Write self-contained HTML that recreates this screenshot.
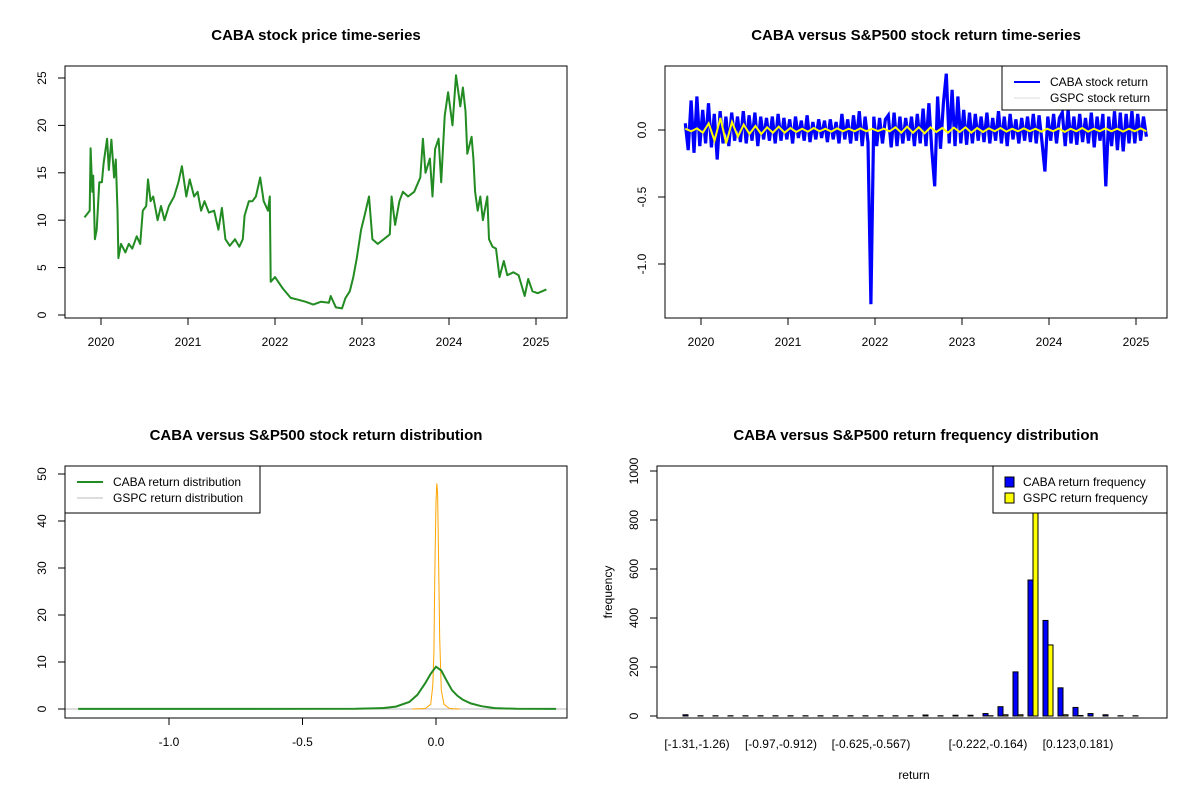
<!DOCTYPE html>
<html><head><meta charset="utf-8"><style>
html,body{margin:0;padding:0;background:#fff;}
svg{display:block;font-family:"Liberation Sans",Arial,sans-serif;}
</style></head><body>
<svg id="s" width="1200" height="800" xmlns="http://www.w3.org/2000/svg"></svg>
<script>
// ---------- data ----------
const priceT=[2019.81,2019.87,2019.88,2019.9,2019.91,2019.93,2019.95,2019.98,2020.01,2020.03,2020.07,2020.09,2020.12,2020.15,2020.17,2020.19,2020.2,2020.23,2020.28,2020.32,2020.36,2020.41,2020.45,2020.48,2020.52,2020.54,2020.57,2020.6,2020.65,2020.69,2020.73,2020.78,2020.84,2020.89,2020.93,2020.98,2021.02,2021.07,2021.11,2021.15,2021.19,2021.24,2021.3,2021.35,2021.39,2021.43,2021.48,2021.54,2021.59,2021.63,2021.65,2021.7,2021.74,2021.78,2021.83,2021.87,2021.92,2021.94,2021.95,2022.0,2022.09,2022.18,2022.27,2022.35,2022.44,2022.53,2022.62,2022.64,2022.7,2022.77,2022.81,2022.86,2022.9,2022.94,2022.99,2023.03,2023.08,2023.12,2023.18,2023.25,2023.32,2023.34,2023.38,2023.43,2023.47,2023.53,2023.6,2023.67,2023.7,2023.73,2023.78,2023.81,2023.84,2023.88,2023.91,2023.95,2023.99,2024.04,2024.08,2024.13,2024.16,2024.19,2024.21,2024.26,2024.28,2024.3,2024.33,2024.36,2024.39,2024.44,2024.46,2024.5,2024.54,2024.58,2024.63,2024.67,2024.74,2024.8,2024.87,2024.91,2024.96,2025.02,2025.12];
const priceV=[10.3,11,17.6,13,14.7,8,9,14,14,16,18.6,15.3,18.5,14.5,16.4,11,6,7.5,6.6,7.5,7,8.3,7.5,11,11.5,14.3,12,12.5,10,11.5,10,11.5,12.5,14,15.7,12.5,14.3,12.5,13,11,12,10.8,11,9,11.3,8,7.3,8,7.2,8,10.5,12,12,12.5,14.5,12,11,12.5,3.5,4,2.8,1.8,1.6,1.4,1.1,1.4,1.3,2,0.8,0.7,1.8,2.5,4,6,9,10.5,12.5,8,7.5,8,8.5,12.5,9.5,12,13,12.5,13,14.5,18.6,15,16.5,12.5,17.5,18.6,14,21,23.5,20,25.3,22,24,21.5,17,18.8,16.5,13,11,12.5,10,12.5,8,7.2,7,4,5.7,4.2,4.5,4.2,2,3.8,2.5,2.3,2.7];
const cabaRet=[0.05,-0.15,0.22,-0.17,0.25,-0.12,0.15,-0.1,0.2,-0.13,
0.12,-0.22,0.14,-0.1,0.1,-0.12,0.13,-0.08,0.1,-0.09,
0.14,-0.1,0.11,-0.08,0.13,-0.12,0.1,-0.07,0.09,-0.08,
0.1,-0.1,0.12,-0.08,0.09,-0.07,0.08,-0.1,0.1,-0.06,
0.07,-0.08,0.11,-0.09,0.06,-0.07,0.08,-0.06,0.07,-0.09,
0.08,-0.07,0.06,-0.1,0.12,-0.07,0.08,-0.1,0.11,-0.08,
0.14,-0.12,0.1,-0.09,-1.3,0.1,-0.12,0.09,-0.1,0.08,
0.11,-0.13,0.13,-0.12,0.1,-0.1,0.09,-0.08,0.1,-0.12,
0.12,-0.1,0.16,-0.12,0.2,-0.15,-0.42,0.25,-0.14,0.2,
0.42,-0.1,0.3,-0.12,0.25,-0.1,0.15,-0.11,0.13,-0.1,
0.12,-0.08,0.1,-0.09,0.13,-0.1,0.09,-0.08,0.14,-0.1,
0.1,-0.12,0.12,-0.07,0.08,-0.1,0.09,-0.08,0.1,-0.09,
0.12,-0.1,0.11,-0.09,-0.31,0.1,-0.08,0.12,-0.1,0.09,
0.13,-0.12,0.15,-0.1,0.1,-0.11,0.12,-0.09,0.09,-0.1,
0.13,-0.13,0.1,-0.08,0.12,-0.42,0.1,-0.12,0.14,-0.15,
0.13,-0.16,0.12,-0.1,0.14,-0.1,0.12,-0.08,0.1,-0.05];
const gspcRet=[0.01,-0.01,0.012,-0.02,0.05,-0.08,0.09,-0.1,0.06,-0.05,0.04,-0.03,0.03,-0.03,0.02,-0.02,0.025,-0.02,0.015,-0.015,0.01,-0.012,0.015,-0.01,0.01,-0.012,0.012,-0.01,0.01,-0.01,0.012,-0.01,0.01,-0.008,0.01,-0.01,0.02,-0.02,0.025,-0.02,0.02,-0.025,0.02,-0.015,0.015,-0.02,0.018,-0.015,0.02,-0.02,0.015,-0.015,0.012,-0.01,0.015,-0.012,0.01,-0.01,0.012,-0.01,0.01,-0.012,0.01,-0.01,0.012,-0.015,0.01,-0.01,0.015,-0.012,0.01,-0.01,0.012,-0.01,0.01,-0.012,0.01,-0.01,0.012,-0.01];
const yearTicks=[2020,2021,2022,2023,2024,2025];
const priceTicks=[0,5,10,15,20,25];
const retTicks=[0,-0.5,-1.0];
const retTickLabels=["0.0","-0.5","-1.0"];
const densX=[-1.34,-0.3,-0.2,-0.15,-0.1,-0.07,-0.04,-0.02,0,0.02,0.04,0.06,0.08,0.1,0.13,0.17,0.22,0.3,0.45];
const densCaba=[0.03,0.05,0.2,0.5,1.5,3,5.5,7.5,9,8.2,6,4,2.8,2,1.2,0.6,0.2,0.05,0.02];
const densGX=[-0.09,-0.04,-0.02,-0.012,-0.008,-0.004,0,0.003,0.006,0.01,0.014,0.02,0.03,0.05,0.09];
const densGspc=[0,0.1,1,5,12,30,44,48,46,30,15,4,1,0.1,0];
const densYTicks=[0,10,20,30,40,50];
const densXTicks=[-1.0,-0.5,0.0];
const densXLabels=["-1.0","-0.5","0.0"];
const histCaba=[5,1,1,1,1,1,1,1,1,1,1,1,1,1,1,1,4,1,3,3,10,38,180,555,390,115,35,10,5,1,1];
const histGspc=[0,0,0,0,0,0,0,0,0,0,0,0,0,0,0,0,0,0,0,0,1,5,5,950,290,5,2,0,0,0,0];
const histYTicks=[0,200,400,600,800,1000];
const histLabelIdx=[0.6,6.2,12.2,20,26];
const histLabels=["[-1.31,-1.26)","[-0.97,-0.912)","[-0.625,-0.567)","[-0.222,-0.164)","[0.123,0.181)"];

// ---------- helpers ----------
const S=document.getElementById('s');const NS='http://www.w3.org/2000/svg';
function mk(tag,attrs,parent,txt){const e=document.createElementNS(NS,tag);for(const k in attrs)e.setAttribute(k,attrs[k]);if(txt!==undefined)e.textContent=txt;(parent||S).appendChild(e);return e;}
function lin(d0,d1,r0,r1){return v=>r0+(v-d0)*(r1-r0)/(d1-d0);}
function group(name){const g=mk('g',{});return g;}
function title(g,x,y,t){const e=mk('text',{x:x,y:y,'text-anchor':'middle','font-size':'15','font-weight':'bold'},g,t);}
function box(g,x0,y0,x1,y1){const e=mk('rect',{x:x0,y:y0,width:x1-x0,height:y1-y0,fill:'none',stroke:'#000','stroke-width':1},g);}
function xTicks(g,vals,labels,sx,yb){const a=group('x-axis');g.appendChild(a);vals.forEach((v,i)=>{const x=sx(v);mk('line',{x1:x,x2:x,y1:yb,y2:yb+7,stroke:'#000'},a);const t=mk('text',{x:x,y:yb+28,'text-anchor':'middle','font-size':'12'},a,labels[i]);});}
function yTicks(g,vals,labels,sy,xl){const a=group('y-axis');g.appendChild(a);vals.forEach((v,i)=>{const y=sy(v);mk('line',{x1:xl-7,x2:xl,y1:y,y2:y,stroke:'#000'},a);const t=mk('text',{x:xl-19,y:y,'text-anchor':'middle','font-size':'12',transform:`rotate(-90 ${xl-19} ${y})`},a,labels[i]);});}
function pathFrom(xs,ys,sx,sy){return xs.map((x,i)=>(i?'L':'M')+sx(x).toFixed(1)+','+sy(ys[i]).toFixed(1)).join('');}
function legend(g,x0,y0,x1,y1,items){const L=group('legend');g.appendChild(L);mk('rect',{x:x0,y:y0,width:x1-x0,height:y1-y0,fill:'#fff',stroke:'#000'},L);items.forEach((it,i)=>{const y=y0+16+i*16;if(it.sq){mk('rect',{x:x0+12,y:y-5,width:9,height:10,fill:it.c,stroke:'#000'},L);}else{mk('line',{x1:x0+12,x2:x0+38,y1:y,y2:y,stroke:it.c,'stroke-width':it.w},L);}const t=mk('text',{x:x0+(it.sq?30:48),y:y+4,'font-size':'12'},L,it.t);});}

// ---------- panel 1: price ----------
{const g=group('price-panel');S.appendChild(g);
const sx=lin(2020,2025,101,536), sy=lin(0,25,315,78);
title(g,316,40,'CABA stock price time-series');
const p=mk('path',{d:pathFrom(priceT,priceV,sx,sy),fill:'none',stroke:'#228B22','stroke-width':2,'stroke-linejoin':'round'},g);

box(g,65,66,567,318);
xTicks(g,yearTicks,yearTicks.map(String),sx,318);
yTicks(g,priceTicks,priceTicks.map(String),sy,65);}

// ---------- panel 2: returns ----------
{const g=group('return-panel');S.appendChild(g);
const sx=lin(2020,2025,701,1136), sy=lin(0,-1,130,264);
title(g,916,40,'CABA versus S&P500 stock return time-series');
const t0=2019.82,t1=2025.12;
const ct=cabaRet.map((v,i)=>t0+(t1-t0)*i/(cabaRet.length-1));
const gt=gspcRet.map((v,i)=>t0+(t1-t0)*i/(gspcRet.length-1));
const p=mk('path',{d:pathFrom(ct,cabaRet,sx,sy),fill:'none',stroke:'#0000FF','stroke-width':3.2},g);

const q=mk('path',{d:pathFrom(gt,gspcRet,sx,sy),fill:'none',stroke:'#FFFF00','stroke-width':2},g);

box(g,665,66,1167,318);
xTicks(g,yearTicks,yearTicks.map(String),sx,318);
yTicks(g,retTicks,retTickLabels,sy,665);
legend(g,1002,66,1167,110,[{c:'#0000FF',w:2,t:'CABA stock return'},{c:'#dddddd',w:1,t:'GSPC stock return'}]);}

// ---------- panel 3: density ----------
{const g=group('density-panel');S.appendChild(g);
const sx=lin(-1,0,169,436), sy=lin(0,50,709,474);
title(g,316,440,'CABA versus S&P500 stock return distribution');
mk('line',{x1:65,x2:567,y1:sy(0),y2:sy(0),stroke:'#bbb'},g);
const q=mk('path',{d:pathFrom(densGX,densGspc,sx,sy),fill:'none',stroke:'#FFA500','stroke-width':1},g);

const p=mk('path',{d:pathFrom(densX,densCaba,sx,sy),fill:'none',stroke:'#228B22','stroke-width':2},g);

box(g,65,466,567,718);
xTicks(g,densXTicks,densXLabels,sx,718);
yTicks(g,densYTicks,densYTicks.map(String),sy,65);
legend(g,65,466,260,513,[{c:'#228B22',w:2,t:'CABA return distribution'},{c:'#bbbbbb',w:1,t:'GSPC return distribution'}]);}

// ---------- panel 4: histogram ----------
{const g=group('histogram-panel');S.appendChild(g);
const sy=lin(0,1000,716,471);
const unit=5.0, x0=678;
const gx=i=>x0+unit*(3*i+1);
title(g,916,440,'CABA versus S&P500 return frequency distribution');
histCaba.forEach((v,i)=>{const r=mk('rect',{x:gx(i),y:sy(v),width:unit,height:sy(0)-sy(v),fill:'#0000FF',stroke:'#000'},g);
});
histGspc.forEach((v,i)=>{const r=mk('rect',{x:gx(i)+unit,y:sy(v),width:unit,height:sy(0)-sy(v),fill:'#FFFF00',stroke:'#000'},g);
});
box(g,657,466,1167,718);
const a=group('x-axis');g.appendChild(a);
histLabelIdx.forEach((gi,k)=>{const t=mk('text',{x:gx(gi)+unit,y:748,'text-anchor':'middle','font-size':'12'},a,histLabels[k]);});
yTicks(g,histYTicks,histYTicks.map(String),sy,657);
const yl=mk('text',{x:612,y:592,'text-anchor':'middle','font-size':'12',transform:'rotate(-90 612 592)'},g,'frequency');
const xl=mk('text',{x:914,y:779,'text-anchor':'middle','font-size':'12'},g,'return');
legend(g,993,466,1167,513,[{sq:1,c:'#0000FF',t:'CABA return frequency'},{sq:1,c:'#FFFF00',t:'GSPC return frequency'}]);}
</script>
</body></html>
